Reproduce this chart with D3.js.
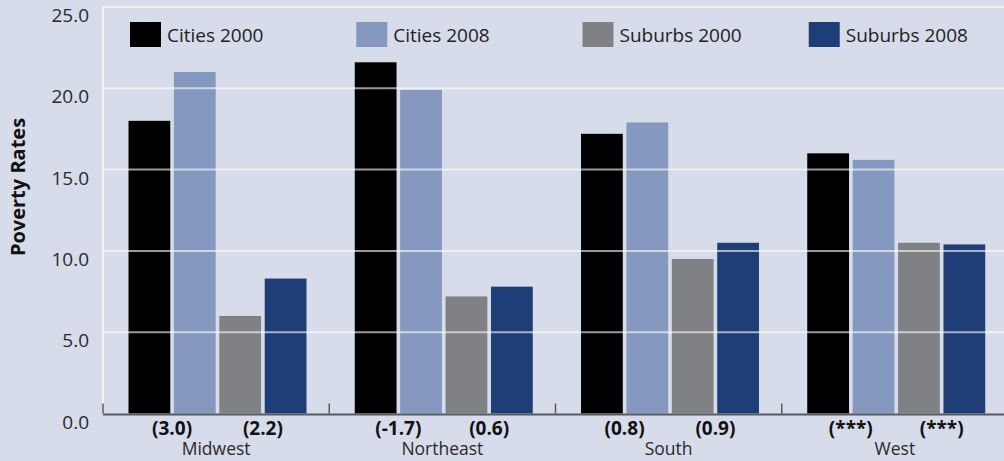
<!DOCTYPE html>
<html>
<head>
<meta charset="utf-8">
<script src="https://cdn.jsdelivr.net/npm/d3@7"></script>
<style>
  body { margin:0; background:#d6dce9; }
  svg { display:block; font-family:"Open Sans", sans-serif; }
</style>
</head>
<body>
<div id="plot"></div>
<script>
// data
var regions = ['Midwest', 'Northeast', 'South', 'West'];
var seriesNames = ['Cities 2000', 'Cities 2008', 'Suburbs 2000', 'Suburbs 2008'];
var cities2000 = [18.0, 21.6, 17.2, 16.0];
var cities2008 = [21.0, 19.9, 17.9, 15.6];
var suburbs2000 = [6.0, 7.2, 9.5, 10.5];
var suburbs2008 = [8.3, 7.8, 10.5, 10.4];
var cityChange = ['(3.0)', '(-1.7)', '(0.8)', '(***)'];
var suburbChange = ['(2.2)', '(0.6)', '(0.9)', '(***)'];
var yTicks = [0, 5, 10, 15, 20, 25];

var colors = ['#000000', '#8598c0', '#808184', '#1f3e77'];
var series = [cities2000, cities2008, suburbs2000, suburbs2008];

var W = 1004, H = 461;
var margin = {t:7, l:103, b:47};

var svg = d3.select('#plot').append('svg')
  .attr('width', W).attr('height', H);

svg.append('rect').attr('width', W).attr('height', H).attr('fill', '#d6dce9');

// the plot runs a bit past the right edge, like the original
var x0 = d3.scaleBand().domain(regions).range([margin.l, 1008]).padding(0);
var x1 = d3.scaleBand().domain(seriesNames).range([25.5, 203.5]).paddingInner(0.08);
var y = d3.scaleLinear().domain([0, 25]).range([H - margin.b - 0.5, margin.t]);

// left white edge
svg.append('line')
  .attr('x1', margin.l).attr('x2', margin.l)
  .attr('y1', y(25)).attr('y2', y(0))
  .attr('stroke', '#f3f5fa').attr('stroke-width', 2);

// bars
var groups = svg.selectAll('.grp').data(regions).enter().append('g')
  .attr('class', 'grp')
  .attr('transform', function(d){ return 'translate(' + x0(d) + ',0)'; });

groups.selectAll('rect').data(function(d, i){
    return seriesNames.map(function(s, j){ return {s:s, v:series[j][i], c:colors[j]}; });
  })
  .enter().append('rect')
  .attr('x', function(d){ return x1(d.s); })
  .attr('width', x1.bandwidth())
  .attr('y', function(d){ return y(d.v); })
  .attr('height', function(d){ return y(0) - y(d.v); })
  .attr('fill', function(d){ return d.c; });

// gridlines, drawn over the bars
svg.selectAll('.grid').data(yTicks.filter(function(d){ return d > 0; })).enter().append('line')
  .attr('x1', margin.l).attr('x2', W)
  .attr('y1', function(d){ return y(d); }).attr('y2', function(d){ return y(d); })
  .attr('stroke', '#ffffff').attr('stroke-opacity', 0.6).attr('stroke-width', 2);

// y tick labels (sit a little under their lines)
svg.selectAll('.ytl').data(yTicks).enter().append('text')
  .attr('x', 89).attr('y', function(d){ return y(d) + 15; })
  .attr('text-anchor', 'end')
  .attr('font-size', 19).attr('fill', '#2a2a2a')
  .text(function(d){ return d.toFixed(1); });

svg.append('text')
  .attr('transform', 'translate(25,187) rotate(-90)')
  .attr('text-anchor', 'middle')
  .attr('font-size', 20).attr('font-weight', 'bold').attr('fill', '#111')
  .text('Poverty Rates');

// baseline and group ticks
svg.append('line')
  .attr('x1', margin.l).attr('x2', W)
  .attr('y1', y(0) + 1).attr('y2', y(0) + 1)
  .attr('stroke', '#555a63').attr('stroke-width', 2);

svg.selectAll('.gtick').data(regions).enter().append('line')
  .attr('x1', function(d){ return x0(d); }).attr('x2', function(d){ return x0(d); })
  .attr('y1', y(0) - 10).attr('y2', y(0))
  .attr('stroke', '#555a63').attr('stroke-width', 1.5);

// change labels and region names
groups.append('text')
  .attr('x', (x1('Cities 2000') + x1('Cities 2008') + x1.bandwidth()) / 2)
  .attr('y', 435).attr('text-anchor', 'middle')
  .attr('font-size', 19).attr('font-weight', 'bold').attr('fill', '#111')
  .text(function(d, i){ return cityChange[i]; });

groups.append('text')
  .attr('x', (x1('Suburbs 2000') + x1('Suburbs 2008') + x1.bandwidth()) / 2)
  .attr('y', 435).attr('text-anchor', 'middle')
  .attr('font-size', 19).attr('font-weight', 'bold').attr('fill', '#111')
  .text(function(d, i){ return suburbChange[i]; });

groups.append('text')
  .attr('x', x0.bandwidth() / 2)
  .attr('y', 455).attr('text-anchor', 'middle')
  .attr('font-size', 17.5).attr('fill', '#2a2a2a')
  .text(function(d){ return d; });

// legend, one entry over each group
var legend = svg.selectAll('.leg').data(seriesNames).enter().append('g')
  .attr('transform', function(d, i){ return 'translate(' + (x0(regions[i]) + 27) + ',22)'; });

legend.append('rect')
  .attr('width', 31).attr('height', 25)
  .attr('fill', function(d, i){ return colors[i]; });

legend.append('text')
  .attr('x', 37).attr('y', 20)
  .attr('font-size', 19).attr('fill', '#222')
  .text(function(d){ return d; });
</script>
</body>
</html>
